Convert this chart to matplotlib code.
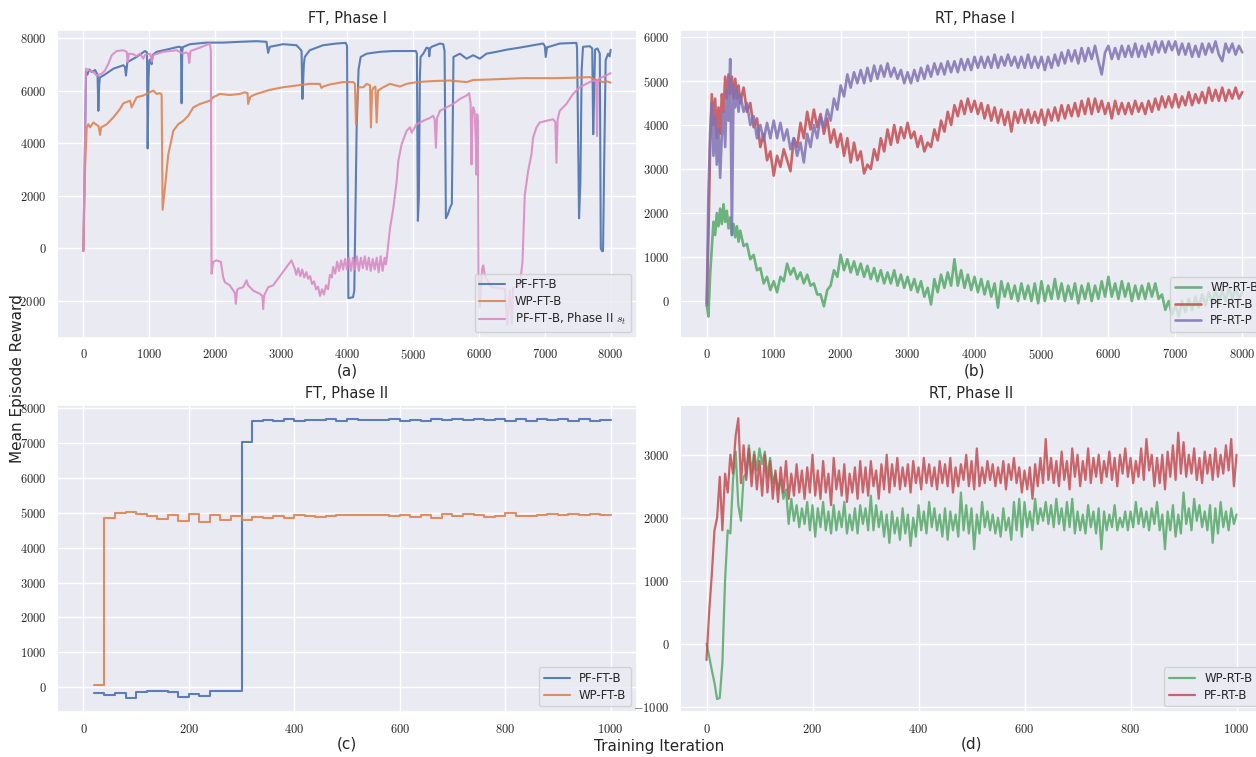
import numpy as np
import matplotlib
matplotlib.use("Agg")
import matplotlib.pyplot as plt
from matplotlib.ticker import FuncFormatter, MultipleLocator
import seaborn as sns

# ---------------- (a) FT, Phase I : breakpoints
a_pf_x = [0, 40, 60, 90, 130, 177, 215, 227, 240, 250, 303, 380, 455, 606, 630, 646, 667, 808, 934, 965,
          975, 990, 1000, 1025, 1035, 1050, 1111, 1263, 1439, 1480, 1490, 1500, 1510, 1616, 1869, 2121, 2374,
          2626, 2778, 2803, 2828, 3030, 3232, 3283, 3310, 3323, 3345, 3359, 3434, 3636, 3838, 3980, 4000, 4020,
          4091, 4110, 4146, 4175, 4207, 4298, 4500, 4702, 4904, 5045, 5060, 5075, 5090, 5105, 5116, 5157, 5207,
          5240, 5247, 5260, 5283, 5409, 5460, 5480, 5500, 5530, 5560, 5590, 5605, 5615, 5712, 5813, 5914, 6015,
          6116, 6268, 6419, 6621, 6823, 6975, 7000, 7015, 7035, 7050, 7227, 7480, 7490, 7520, 7540, 7560, 7580,
          7682, 7720, 7735, 7750, 7763, 7800, 7835, 7850, 7870, 7884, 7900, 7924, 7960, 7985, 8000]
a_pf_y = [-100, 6700, 6600, 6800, 6700, 6780, 6600, 5230, 6200, 6500, 6570, 6700, 6830, 6960, 6900, 6570, 7080,
          7275, 7500, 7450, 3800, 6500, 7150, 7200, 7000, 7350, 7470, 7555, 7660, 7650, 5515, 7500, 7650, 7760,
          7820, 7820, 7850, 7875, 7850, 7430, 7660, 7760, 7720, 7590, 7500, 5680, 7000, 7275, 7530, 7720, 7785,
          7810, 7700, -1890, -1850, -1600, 4595, 6800, 7275, 7400, 7470, 7500, 7500, 7500, 7400, 1050, 2000,
          6500, 7275, 7400, 7630, 7600, 7300, 7600, 7660, 7785, 7760, 7500, 1150, 1300, 1530, 1700, 5000, 7275,
          7400, 7210, 7340, 7210, 7400, 7470, 7550, 7630, 7720, 7785, 7700, 7275, 7650, 7650, 7785, 7810, 7600,
          1150, 2500, 6800, 7660, 7685, 7600, 4340, 6000, 7550, 7600, 7400, 0, -100, -100, 3000, 7150, 7400,
          7300, 7550]

a_wp_x = [0, 25, 50, 76, 100, 152, 200, 230, 253, 270, 354, 455, 556, 606, 707, 732, 808, 909, 1010, 1060,
          1111, 1162, 1187, 1202, 1237, 1288, 1364, 1439, 1515, 1591, 1667, 1768, 1919, 1970, 2071, 2222, 2374,
          2449, 2490, 2500, 2530, 2560, 2626, 2828, 3030, 3232, 3434, 3590, 3611, 3640, 3737, 3939, 4096, 4120,
          4136, 4160, 4172, 4247, 4298, 4348, 4363, 4380, 4399, 4430, 4450, 4470, 4550, 4651, 4803, 4904, 5056,
          5308, 5561, 5813, 5914, 6167, 6419, 6672, 6924, 7177, 7429, 7682, 7783, 7884, 7934, 8000]
a_wp_y = [-60, 3000, 4595, 4720, 4600, 4785, 4700, 4650, 4315, 4600, 4720, 4980, 5300, 5515, 5615, 5360, 5745,
          5810, 5935, 6000, 5870, 5900, 5850, 1470, 2300, 3575, 4470, 4720, 4850, 5040, 5360, 5490, 5615, 5745,
          5870, 5830, 5870, 5935, 5900, 5490, 5750, 5800, 5870, 6025, 6125, 6190, 6255, 6250, 6100, 6150, 6230,
          6320, 6320, 6250, 4720, 5800, 6125, 6125, 6250, 6200, 4600, 6000, 6100, 6150, 4785, 6000, 6125, 6255,
          6150, 6255, 6320, 6360, 6380, 6320, 6400, 6420, 6445, 6470, 6470, 6470, 6485, 6510, 6400, 6320, 6350,
          6300]

a_ph2_x = [0, 40, 70, 152, 202, 278, 328, 379, 430, 505, 606, 657, 672, 690, 758, 808, 859, 909, 935, 1010,
           1035, 1060, 1212, 1414, 1515, 1560, 1590, 1606, 1625, 1768, 1894, 1919, 1934, 1944, 1970, 2020, 2086,
           2121, 2146, 2222, 2273, 2300, 2313, 2330, 2348, 2424, 2475, 2500, 2576, 2677, 2715, 2727, 2740, 2803,
           2879, 3157, 3207, 3230, 3260, 3290, 3320, 3350, 3384, 3410, 3440, 3470, 3500, 3530, 3560, 3590, 3620,
           3650, 3680, 3712, 3740, 3770, 3788, 3820, 3850, 3880, 3910, 3940, 3970, 4000, 4030, 4060, 4090, 4120,
           4150, 4180, 4210, 4240, 4270, 4300, 4330, 4360, 4390, 4420, 4450, 4480, 4510, 4540, 4570, 4590, 4601,
           4652, 4702, 4753, 4778, 4828, 4904, 4955, 4980, 5056, 5157, 5250, 5308, 5330, 5348, 5365, 5409, 5510,
           5611, 5712, 5813, 5853, 5875, 5889, 5900, 5914, 5935, 5950, 5965, 5975, 5985, 5995, 6015, 6030, 6050,
           6066, 6090, 6116, 6192, 6300, 6394, 6430, 6470, 6500, 6520, 6621, 6662, 6697, 6747, 6798, 6823, 6874,
           6924, 7025, 7126, 7160, 7177, 7195, 7227, 7328, 7429, 7530, 7631, 7732, 7780, 7793, 7805, 7818, 7934,
           8000]
a_ph2_y = [-100, 6830, 6790, 6700, 6570, 6640, 6760, 7020, 7340, 7500, 7530, 7470, 7080, 7400, 7380, 7300, 7400,
           7210, 7350, 7400, 7100, 7350, 7470, 7530, 7400, 7450, 7400, 7045, 7500, 7630, 7760, 7785, 7500, -960,
           -510, -450, -510, -1090, -1280, -1400, -1600, -1700, -2100, -1600, -1530, -1470, -1210, -1400, -1600,
           -1720, -1800, -2300, -1800, -1470, -1400, -450, -770, -1000, -750, -1050, -800, -1100, -900, -1150,
           -1050, -1350, -1250, -1550, -1450, -1800, -1550, -1750, -1400, -1550, -1000, -1100, -700, -950, -500,
           -850, -450, -800, -400, -800, -350, -850, -350, -800, -300, -850, -350, -750, -300, -800, -350, -850,
           -400, -800, -350, -900, -300, -850, -350, -600, -400, 770, 1530, 2550, 3320, 3960, 4470, 4600, 4400,
           4720, 4850, 4950, 5040, 4900, 3830, 4950, 5230, 5360, 5490, 5680, 5810, 5900, 5500, 3190, 5000, 5360,
           5200, 4300, 2800, 5100, 4800, -1000, -2230, -1500, -800, -640, -1000, -1150, -1470, -1500, -1530,
           -2900, -1600, -2850, -1500, -1400, -510, 2040, 2935, 3575, 4210, 4600, 4785, 4850, 4910, 4800, 3255,
           4900, 5230, 5490, 5870, 6125, 6255, 6380, 6350, 4275, 6300, 6445, 6575, 6660]

# ---------------- (b) RT, Phase I : iterations 0..475 every 25, then every 50
b_wp = [-100, -350, 600, 1200, 1800, 1500, 2000, 1700, 2100, 1750, 2200, 1800, 2050, 1650, 1900, 1500, 1750, 1450, 1700, 1350,
        1600, 1250, 1300, 950, 1050, 700, 750, 400, 550, 250,
        450, 200, 550, 450, 850, 600, 750, 500, 650, 400,
        600, 350, 400, 150, 150, -120, 250, 350, 700, 550,
        1050, 700, 950, 650, 900, 600, 850, 550, 800, 500,
        750, 450, 700, 400, 650, 400, 700, 350, 600, 300,
        550, 250, 500, 200, 450, 100, 300, -80, 500, 200,
        600, 300, 650, 350, 950, 350, 700, 300, 600, 250,
        550, 200, 500, 150, 450, 100, 400, -150, 450, 100,
        400, 50, 350, 0, 400, 50, 350, 0, 400, -50,
        450, 0, 350, 50, 500, 50, 400, 0, 350, 50,
        400, -50, 350, 50, 400, 0, 350, 50, 450, 100,
        550, 100, 400, 50, 450, 100, 400, 0, 350, 50,
        350, 50, 400, 100, 400, 50, 150, -200, 0, -300,
        -100, -350, 0, -250, 50, -200, 100, -150, 150, -100,
        200, -50, 250, 0, 250, 0, 300, 50, 300, 50, 200]
b_pf = [-50, 1500, 3500, 4700, 4000, 4600, 3700, 4400, 3800, 4700, 4300, 5100, 4600, 5150, 4700, 5100, 4600, 5050, 4600, 4900,
        4500, 4850, 4300, 4500, 3950, 4150, 3500, 3800, 3200, 3400,
        2850, 3300, 3050, 3450, 3200, 2950, 3700, 3500, 4050, 3700,
        4300, 3900, 4350, 3950, 4250, 3800, 4150, 3600, 3900, 3500,
        3800, 3300, 3700, 3150, 3600, 3200, 3400, 2900, 3100, 3000,
        3450, 3200, 3700, 3400, 3900, 3550, 4000, 3600, 3950, 3700,
        4050, 3700, 3850, 3500, 3750, 3400, 3600, 3500, 3900, 3650,
        4100, 3850, 4300, 4000, 4450, 4200, 4550, 4250, 4600, 4300,
        4550, 4250, 4500, 4150, 4450, 4100, 4400, 4050, 4350, 4000,
        4300, 3850, 4300, 4050, 4350, 4050, 4350, 4050, 4300, 4050,
        4350, 4000, 4350, 4100, 4400, 4100, 4450, 4150, 4450, 4200,
        4500, 4200, 4550, 4250, 4600, 4250, 4600, 4300, 4550, 4250,
        4500, 4150, 4550, 4250, 4500, 4250, 4500, 4250, 4550, 4300,
        4500, 4250, 4550, 4300, 4600, 4350, 4650, 4400, 4650, 4400,
        4700, 4400, 4650, 4450, 4750, 4450, 4700, 4500, 4750, 4500,
        4850, 4550, 4800, 4550, 4850, 4550, 4800, 4600, 4850, 4600, 4750]
b_pfp = [-100, 2500, 3800, 4500, 3300, 4200, 3100, 3900, 2800, 3800, 4300, 3500, 4800, 4100, 5500, 1500, 4900, 4400, 4800, 4300,
         4700, 4300, 4500, 4000, 4200, 3700, 4000, 3650, 4050, 3700,
         4100, 3700, 4050, 3650, 3900, 3450, 3700, 3300, 3600, 3150,
         3800, 3500, 4000, 3700, 4200, 3950, 4350, 4100, 4600, 4350,
         4900, 4650, 5150, 4850, 5200, 4950, 5250, 4950, 5300, 5000,
         5350, 5050, 5350, 5100, 5400, 5100, 5300, 5050, 5250, 4950,
         5200, 4950, 5250, 5000, 5300, 5050, 5350, 5100, 5400, 5150,
         5400, 5150, 5450, 5200, 5450, 5200, 5500, 5250, 5500, 5250,
         5550, 5300, 5550, 5300, 5550, 5300, 5600, 5300, 5550, 5350,
         5600, 5350, 5550, 5300, 5550, 5300, 5600, 5300, 5550, 5300,
         5550, 5250, 5550, 5300, 5600, 5350, 5650, 5400, 5700, 5450,
         5700, 5400, 5750, 5450, 5750, 5500, 5800, 5450, 5150, 5650,
         5800, 5500, 5750, 5500, 5800, 5550, 5800, 5550, 5850, 5550,
         5800, 5550, 5850, 5600, 5900, 5650, 5900, 5650, 5900, 5700,
         5900, 5600, 5850, 5600, 5850, 5550, 5800, 5550, 5850, 5600,
         5850, 5650, 5900, 5600, 5450, 5850, 5650, 5850, 5600, 5800, 5650]

# ---------------- (c) FT, Phase II : one value every 20 iterations from 20
c_pf = [-180, -220, -180, -320, -130, -120, -120, -140, -290, -200,
        -240, -110, -120, -120, 7040, 7640, 7650, 7640, 7680, 7640,
        7650, 7650, 7680, 7640, 7680, 7660, 7670, 7650, 7680, 7630,
        7670, 7630, 7680, 7650, 7680, 7650, 7680, 7650, 7680, 7640,
        7690, 7640, 7700, 7660, 7690, 7640, 7680, 7640, 7660, 7650]
c_wp = [50, 4840, 4990, 5010, 4960, 4920, 4830, 4930, 4770, 4970,
        4730, 4940, 4780, 4900, 4790, 4870, 4840, 4900, 4840, 4930,
        4900, 4880, 4910, 4930, 4940, 4930, 4930, 4940, 4910, 4940,
        4870, 4940, 4850, 4970, 4920, 4960, 4930, 4870, 4900, 4990,
        4920, 4920, 4940, 4970, 4930, 4960, 4930, 4960, 4930, 4930]

# ---------------- (d) RT, Phase II : one value every 5 iterations
d_wp = [0, -200, -420, -620, -880, -860, -300, 1000, 1800, 1750,
        2600, 3050, 2200, 1950, 2650, 2700, 3150, 2700, 3050, 2750,
        3100, 2850, 3050, 2650, 2950, 2550, 2700, 2450, 2600, 2300,
        2450, 1900, 2300, 1950, 2200, 1850, 2150, 1900, 2250, 1800,
        2200, 1700, 2150, 1850, 2250, 1800, 2100, 1750, 2200, 1800,
        2100, 1850, 2250, 1750, 2050, 1800, 2150, 1750, 2200, 1900,
        2150, 1800, 2350, 1800, 2200, 1850, 2100, 1700, 2050, 1600,
        2100, 1750, 2000, 1650, 2150, 1750, 2050, 1550, 2000, 1700,
        2200, 1800, 2100, 1750, 2250, 1850, 2150, 1800, 2050, 1700,
        2150, 1650, 2100, 1800, 2050, 1700, 2400, 1800, 2200, 1750,
        2150, 1500, 2050, 1750, 2250, 1850, 2100, 1800, 2050, 1750,
        2000, 1700, 2150, 1800, 2000, 1650, 2250, 1800, 2300, 1700,
        2250, 1850, 2100, 1800, 2300, 1900, 2150, 1950, 2250, 1900,
        2200, 1850, 2300, 1900, 2150, 1800, 2250, 1850, 2300, 1750,
        2100, 1800, 2050, 1750, 2200, 1850, 2100, 1750, 2150, 1500,
        2100, 1800, 2050, 1850, 2200, 1800, 2000, 1850, 2100, 1800,
        2100, 1850, 2250, 1900, 2150, 1850, 2100, 1800, 2150, 1900,
        2250, 1800, 2050, 1500, 2100, 1800, 2200, 1700, 2050, 1750,
        2400, 1900, 2150, 1800, 2300, 1950, 2200, 1850, 2100, 1800,
        2200, 1600, 2150, 1750, 2250, 1850, 2100, 1800, 2150, 1900, 2050]
d_pf = [-260, 500, 1100, 1800, 2000, 2650, 1800, 2700, 2400, 3000,
        2700, 3300, 3580, 2550, 3150, 2600, 3100, 2500, 3000, 2450,
        2900, 2350, 3000, 2400, 2900, 2300, 2750, 2250, 2800, 2400,
        2900, 2300, 2700, 2350, 2850, 2400, 2750, 2300, 2800, 2400,
        3000, 2350, 2750, 2300, 2900, 2400, 2700, 2200, 2950, 2450,
        2750, 2350, 2850, 2250, 2700, 2400, 2800, 2300, 2900, 2400,
        2800, 2350, 2900, 2500, 2750, 2300, 2850, 2450, 3000, 2400,
        2850, 2500, 2950, 2450, 2800, 2500, 2850, 2400, 2900, 2550,
        2800, 2450, 2950, 2550, 2850, 2500, 2800, 2450, 2900, 2550,
        2850, 2500, 2950, 2400, 2800, 2500, 2850, 2600, 3000, 2500,
        2900, 2450, 3100, 2500, 2800, 2550, 2900, 2600, 2850, 2500,
        2800, 2550, 2900, 2450, 2850, 2600, 2950, 2550, 2800, 2400,
        2750, 2450, 2800, 2300, 2850, 2500, 2950, 2550, 3250, 2600,
        2950, 2550, 2900, 2500, 3050, 2600, 2900, 2450, 3100, 2650,
        3000, 2500, 2900, 2600, 3100, 2550, 2950, 2650, 3000, 2550,
        2900, 2650, 3050, 2600, 2950, 2500, 3000, 2700, 3100, 2650,
        2950, 2550, 2900, 2650, 3100, 2600, 3250, 2750, 3000, 2500,
        2950, 2550, 3000, 2450, 3050, 2650, 3150, 2600, 3350, 2700,
        3200, 2650, 3000, 2700, 3100, 2600, 2950, 2550, 3050, 2700,
        3000, 2600, 3100, 2650, 3000, 2700, 3150, 2750, 3250, 2500, 3000]

b_iter = np.concatenate([np.arange(0, 500, 25), np.arange(500, 8001, 50)])
c_iter = np.arange(20, 1001, 20)
d_iter = np.arange(0, 1001, 5)

sns.set_theme(style="darkgrid")
plt.rcParams['font.family'] = ['DejaVu Sans']
plt.rcParams['mathtext.fontset'] = 'cm'
pal = sns.color_palette("deep")
blue, orange, green, red, purple, pink = pal[0], pal[1], pal[2], pal[3], pal[4], pal[6]

fig = plt.figure(figsize=(12.56, 7.57), dpi=100)
ax_a = fig.add_axes([0.0454, 0.5535, 0.4618, 0.4069])
ax_b = fig.add_axes([0.5414, 0.5535, 0.4690, 0.4069])
ax_c = fig.add_axes([0.0454, 0.0590, 0.4618, 0.4060])
ax_d = fig.add_axes([0.5414, 0.0590, 0.4642, 0.4060])

ax_a.plot(a_pf_x, a_pf_y, color=blue, lw=1.5, alpha=0.9, label="PF-FT-B")
ax_a.plot(a_wp_x, a_wp_y, color=orange, lw=1.5, alpha=0.9, label="WP-FT-B")
ax_a.plot(a_ph2_x, a_ph2_y, color=pink, lw=1.5, alpha=0.9, label="PF-FT-B, Phase II $s_t$")

ax_b.plot(b_iter, b_wp, color=green, lw=1.9, alpha=0.85, label="WP-RT-B")
ax_b.plot(b_iter, b_pf, color=red, lw=1.9, alpha=0.85, label="PF-RT-B")
ax_b.plot(b_iter, b_pfp, color=purple, lw=1.9, alpha=0.85, label="PF-RT-P")

ax_c.step(c_iter, c_pf, where="post", color=blue, lw=1.5, alpha=0.9, label="PF-FT-B")
ax_c.step(c_iter, c_wp, where="post", color=orange, lw=1.5, alpha=0.9, label="WP-FT-B")

ax_d.plot(d_iter, d_wp, color=green, lw=1.6, alpha=0.85, label="WP-RT-B")
ax_d.plot(d_iter, d_pf, color=red, lw=1.6, alpha=0.85, label="PF-RT-B")

fmt = FuncFormatter(lambda v, p: f"${v:.0f}$")
setup = [
    (ax_a, "FT, Phase I", "(a)", (-400, 8400), (-3400, 8300), 1000, 2000),
    (ax_b, "RT, Phase I", "(b)", (-400, 8400), (-840, 6160), 1000, 1000),
    (ax_c, "FT, Phase II", "(c)", (-50, 1050), (-720, 8090), 200, 1000),
    (ax_d, "RT, Phase II", "(d)", (-50, 1050), (-1090, 3790), 200, 1000),
]
for ax, title, lab, xl, yl, xs, ys in setup:
    ax.set_xlim(*xl)
    ax.set_ylim(*yl)
    ax.xaxis.set_major_locator(MultipleLocator(xs))
    ax.yaxis.set_major_locator(MultipleLocator(ys))
    ax.xaxis.set_major_formatter(fmt)
    ax.yaxis.set_major_formatter(fmt)
    ax.tick_params(labelsize=9, pad=1.5)
    ax.set_title(title, fontsize=10.5, pad=5)
    ax.set_xlabel(lab, fontsize=11, labelpad=0.5)
    ax.legend(loc="lower right", fontsize=8.5, handlelength=2.2, borderpad=0.4, labelspacing=0.3)

fig.text(0.5247, 0.0145, "Training Iteration", ha="center", va="center", fontsize=11)
fig.text(0.0143, 0.5, "Mean Episode Reward", ha="center", va="center", rotation=90, fontsize=11)

fig.savefig("out.png", dpi=100)
